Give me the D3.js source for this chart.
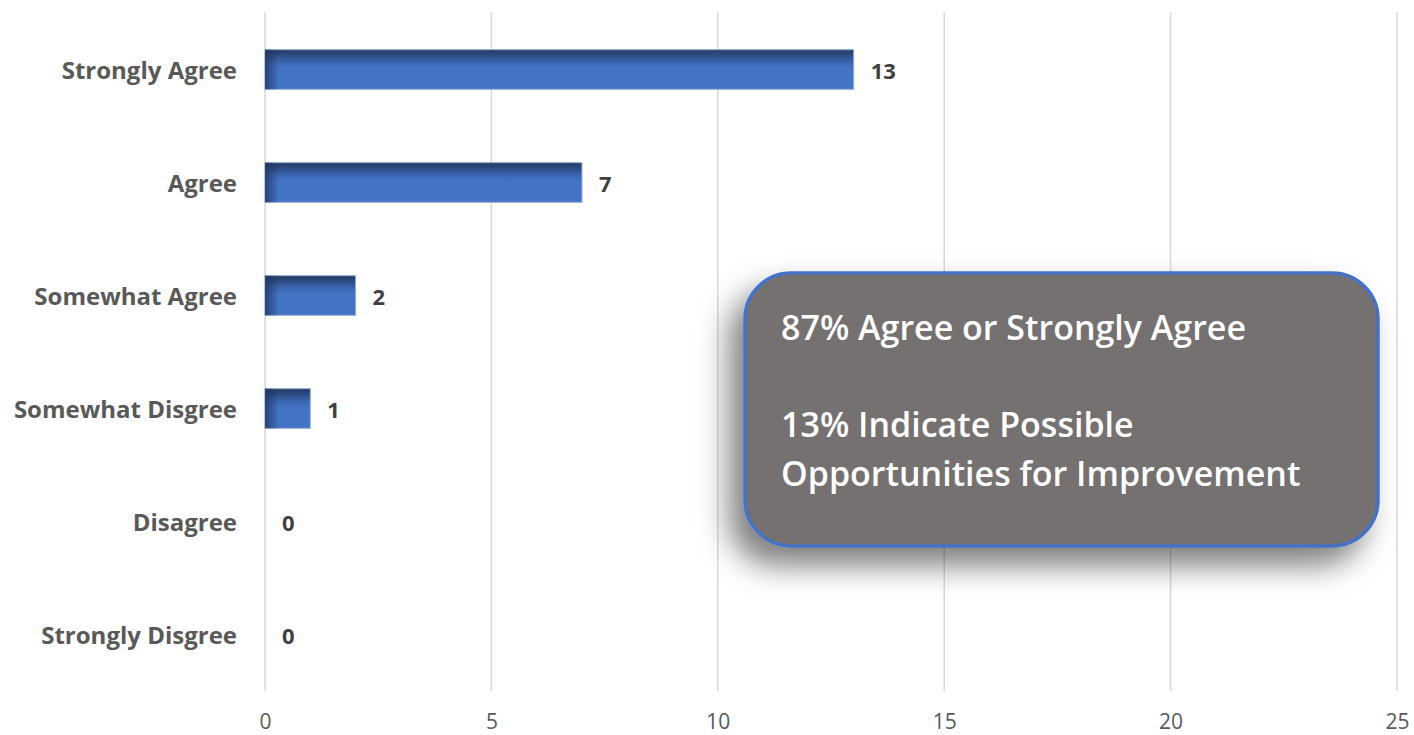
<!DOCTYPE html>
<html>
<head>
<meta charset="utf-8">
<script src="https://cdn.jsdelivr.net/npm/d3@7"></script>
<style>
  body { margin: 0; background: #fff; }
  svg text { font-family: "Open Sans", "Noto Sans", sans-serif; }
</style>
</head>
<body>
<div id="chart"></div>
<script>
// survey answers, top to bottom
const categories = ["Strongly Agree", "Agree", "Somewhat Agree", "Somewhat Disgree", "Disagree", "Strongly Disgree"];
const counts = [13, 7, 2, 1, 0, 0];
const xTicks = [0, 5, 10, 15, 20, 25];
const noteLines = ["87% Agree or Strongly Agree", "", "13% Indicate Possible", "Opportunities for Improvement"];

const W = 1414, H = 735;
const margin = { top: 13, right: 17, bottom: 44, left: 265 };
const width = W - margin.left - margin.right,
  height = H - margin.top - margin.bottom;

const svg = d3.select("#chart").append("svg")
  .attr("width", W)
  .attr("height", H);

const defs = svg.append("defs");

// bar fill: dark top edge fading into the blue
const grad = defs.append("linearGradient")
  .attr("id", "barGrad")
  .attr("x1", 0).attr("y1", 0).attr("x2", 0).attr("y2", 1);
grad.append("stop").attr("offset", "0%").attr("stop-color", "#22385e");
grad.append("stop").attr("offset", "30%").attr("stop-color", "#3a63ad");
grad.append("stop").attr("offset", "45%").attr("stop-color", "#4472c4");
grad.append("stop").attr("offset", "100%").attr("stop-color", "#4472c4");

const gradL = defs.append("linearGradient")
  .attr("id", "barLeft")
  .attr("x1", 0).attr("y1", 0).attr("x2", 1).attr("y2", 0);
gradL.append("stop").attr("offset", "0%").attr("stop-color", "#1f3560").attr("stop-opacity", 0.8);
gradL.append("stop").attr("offset", "100%").attr("stop-color", "#1f3560").attr("stop-opacity", 0);

const shadow = defs.append("filter")
  .attr("id", "boxShadow")
  .attr("x", "-20%").attr("y", "-20%").attr("width", "140%").attr("height", "150%");
shadow.append("feDropShadow")
  .attr("dx", -14).attr("dy", 18)
  .attr("stdDeviation", 15)
  .attr("flood-color", "#000")
  .attr("flood-opacity", 0.5);

const g = svg.append("g")
  .attr("transform", `translate(${margin.left},${margin.top})`);

const x = d3.scaleLinear().domain([0, 25]).range([0, width]);
const y = d3.scaleBand().domain(categories).range([0, height]).paddingInner(0.65).paddingOuter(0.325);

// vertical gridlines
g.selectAll(".grid")
  .data(xTicks)
  .join("line")
  .attr("x1", d => x(d)).attr("x2", d => x(d))
  .attr("y1", -1).attr("y2", height)
  .attr("stroke", "#d9d9d9")
  .attr("stroke-width", 1.5);

// x axis labels
const xAxis = g.append("g")
  .attr("transform", `translate(0,${height})`)
  .call(d3.axisBottom(x).tickValues(xTicks).tickSize(0).tickPadding(23));
xAxis.select(".domain").remove();
xAxis.selectAll("text")
  .attr("fill", "#595959")
  .style("font-size", "21px");

// category labels
const yAxis = g.append("g")
  .call(d3.axisLeft(y).tickSize(0).tickPadding(28));
yAxis.select(".domain").remove();
yAxis.selectAll("text")
  .attr("fill", "#595959")
  .attr("dy", "0.4em")
  .style("font-size", "24px")
  .style("font-weight", "bold");

// bars
const bars = g.selectAll(".bar")
  .data(categories)
  .join("g");
bars.append("rect")
  .attr("x", 0)
  .attr("y", d => y(d))
  .attr("width", (d, i) => x(counts[i]))
  .attr("height", y.bandwidth())
  .attr("fill", "url(#barGrad)")
  .attr("stroke", (d, i) => counts[i] > 0 ? "#8faadc" : "none")
  .attr("stroke-width", 1);
bars.append("rect")
  .attr("x", 0)
  .attr("y", d => y(d))
  .attr("width", (d, i) => Math.min(14, x(counts[i])))
  .attr("height", y.bandwidth())
  .attr("fill", "url(#barLeft)");

// value labels
g.selectAll(".val")
  .data(categories)
  .join("text")
  .attr("x", (d, i) => x(counts[i]) + 17)
  .attr("y", d => y(d) + y.bandwidth() / 2)
  .attr("dy", "0.42em")
  .attr("fill", "#404040")
  .style("font-size", "22px")
  .style("font-weight", "bold")
  .text((d, i) => counts[i]);

// annotation box
const box = { x: 745, y: 273, w: 633, h: 273 };
svg.append("rect")
  .attr("x", box.x).attr("y", box.y)
  .attr("width", box.w).attr("height", box.h)
  .attr("rx", 46).attr("ry", 46)
  .attr("fill", "#767171")
  .attr("stroke", "#4472c4")
  .attr("stroke-width", 3.5)
  .attr("filter", "url(#boxShadow)");

svg.append("g")
  .selectAll("text")
  .data(noteLines)
  .join("text")
  .attr("x", 781)
  .attr("y", (d, i) => 340 + i * 48.5)
  .attr("fill", "#ffffff")
  .style("font-size", "34px")
  .style("font-weight", 600)
  .text(d => d);
</script>
</body>
</html>
